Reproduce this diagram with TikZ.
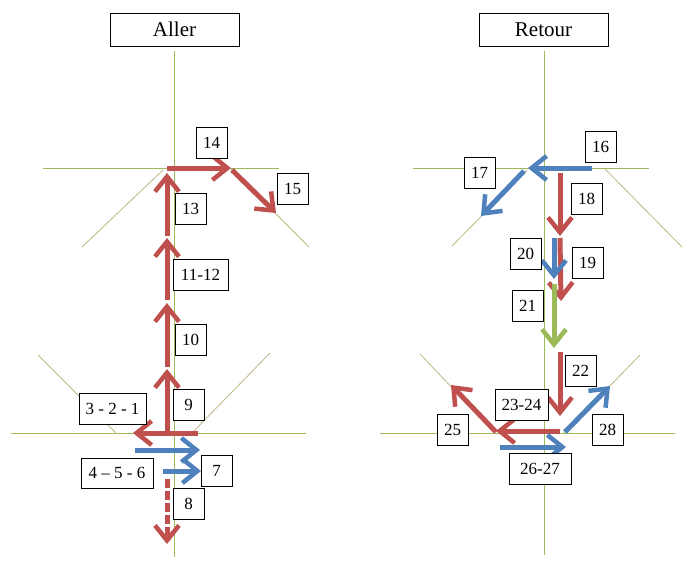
\documentclass[tikz,border=0pt]{standalone}
\usepackage{fontspec}
\setmainfont{Liberation Serif}
\usetikzlibrary{arrows.meta}
\definecolor{ared}{HTML}{C0504D}
\definecolor{ablue}{HTML}{4F81BD}
\definecolor{agreen}{HTML}{9BBB59}
\definecolor{axis}{HTML}{9BBB59}
\definecolor{diag}{HTML}{BDB885}
\tikzset{
  lbl/.style={draw=black, line width=0.8pt, fill=white, inner sep=0pt,
    minimum width=31pt, minimum height=31pt, font=\fontsize{17}{17}\selectfont},
  ttl/.style={draw=black, line width=0.8pt, fill=white, inner sep=0pt,
    minimum width=129pt, minimum height=33pt, font=\fontsize{21}{21}\selectfont},
  axisline/.style={draw=axis, line width=0.8pt},
  diagline/.style={draw=diag, line width=0.8pt},
  mv/.style={line width=5pt, -{Straight Barb[length=15pt, width=24pt, line width=4.5pt]}},
  mvr/.style={mv, draw=ared},
  mvb/.style={mv, draw=ablue},
  mvg/.style={mv, draw=agreen},
}
\begin{document}
\begin{tikzpicture}[x=1pt, y=-1pt]
\useasboundingbox (0,0) rectangle (694,563);
\fill[white] (0,0) rectangle (694,563);
% ---------- left panel axes ----------
\draw[axisline] (174,51) -- (174,557);
\draw[axisline] (43,168) -- (279,168);
\draw[axisline] (11,433) -- (306,433);
\draw[diagline] (163,170) -- (82,247);
\draw[diagline] (230,168) -- (309,247);
\draw[diagline] (38,355) -- (117,434);
\draw[diagline] (270,353) -- (192,433);
% ---------- right panel axes ----------
\draw[axisline] (544,51) -- (544,555);
\draw[axisline] (413,168) -- (649,168);
\draw[axisline] (380,433) -- (675,433);
\draw[diagline] (527,170) -- (452,246);
\draw[diagline] (604,168) -- (682,247);
\draw[diagline] (420,354) -- (495,433);
\draw[diagline] (640,355) -- (564,433);
% ---------- coordinates ----------
\coordinate (p9a) at (167,433);  \coordinate (p9b) at (167,369);
\coordinate (p10a) at (167,367); \coordinate (p10b) at (167,303);
\coordinate (p11a) at (167,300); \coordinate (p11b) at (167,238);
\coordinate (p13a) at (167,236); \coordinate (p13b) at (167,173);
\coordinate (p14a) at (167,168); \coordinate (p14b) at (231,168);
\coordinate (p15a) at (232,170); \coordinate (p15b) at (276,213);
\coordinate (p3a) at (198,433);  \coordinate (p3b) at (133,433);
\coordinate (p4a) at (135,450);  \coordinate (p4b) at (200,450);
\coordinate (p7a) at (163,471);  \coordinate (p7b) at (201,471);
\coordinate (p8a) at (167,479);  \coordinate (p8b) at (167,544);
\coordinate (p16a) at (592,168); \coordinate (p16b) at (528,168);
\coordinate (p17a) at (524,171); \coordinate (p17b) at (481,216);
\coordinate (p18a) at (560,173); \coordinate (p18b) at (560,236);
\coordinate (p19a) at (560,238); \coordinate (p19b) at (561,301);
\coordinate (p20a) at (554,238); \coordinate (p20b) at (554,279);
\coordinate (p21a) at (554,284); \coordinate (p21b) at (554,348);
\coordinate (p22a) at (560,352); \coordinate (p22b) at (560,416);
\coordinate (p23a) at (560,431); \coordinate (p23b) at (496,431);
\coordinate (p25a) at (496,432); \coordinate (p25b) at (451,385);
\coordinate (p26a) at (500,447); \coordinate (p26b) at (566,447);
\coordinate (p28a) at (565,432); \coordinate (p28b) at (610,386);
% ---------- left arrows ----------
\draw[mvr] (p9a) -- (p9b);
\draw[mvr] (p10a) -- (p10b);
\draw[mvr] (p11a) -- (p11b);
\draw[mvr] (p13a) -- (p13b);
\draw[mvr] (p14a) -- (p14b);
\draw[mvr] (p15a) -- (p15b);
\draw[mvr] (p3a) -- (p3b);
\draw[mvb] (p4a) -- (p4b);
\draw[mvb] (p7a) -- (p7b);
\draw[mvr, dash pattern=on 9pt off 3pt] (p8a) -- (p8b);
% ---------- right arrows ----------
\draw[mvb] (p16a) -- (p16b);
\draw[mvb] (p17a) -- (p17b);
\draw[mvr] (p18a) -- (p18b);
\draw[mvr] (p19a) -- (p19b);
\draw[mvb] (p20a) -- (p20b);
\draw[mvg] (p21a) -- (p21b);
\draw[mvr] (p22a) -- (p22b);
\draw[mvr] (p23a) -- (p23b);
\draw[mvr] (p25a) -- (p25b);
\draw[mvb] (p26a) -- (p26b);
\draw[mvb] (p28a) -- (p28b);
% ---------- titles ----------
\node[ttl] (aller) at (174.5,29.5) {Aller};
\node[ttl] (retour) at (543.5,29.5) {Retour};
% ---------- left labels ----------
\node[lbl] (l14) at (211.5,142.5) {14};
\node[lbl] (l15) at (292.5,188.5) {15};
\node[lbl] (l13) at (190.5,208.5) {13};
\node[lbl, minimum width=55pt] (l11) at (200.5,274.5) {11-12};
\node[lbl] (l10) at (190.5,339.5) {10};
\node[lbl] (l9) at (188.5,404.5) {9};
\node[lbl, minimum width=67pt] (l3) at (112.5,408.5) {3 - 2 - 1};
\node[lbl, minimum width=72pt, minimum height=30pt] (l4) at (117,473) {4 – 5 - 6};
\node[lbl] (l7) at (216.5,470.5) {7};
\node[lbl] (l8) at (188.5,503.5) {8};
% ---------- right labels ----------
\node[lbl] (l16) at (600.5,146.5) {16};
\node[lbl] (l17) at (479.5,173) {17};
\node[lbl] (l18) at (586.5,198.5) {18};
\node[lbl] (l20) at (525.5,253.5) {20};
\node[lbl] (l19) at (587.5,262.5) {19};
\node[lbl] (l21) at (527.5,306) {21};
\node[lbl] (l22) at (580.5,370.5) {22};
\node[lbl, minimum width=53pt] (l23) at (521.5,404.5) {23-24};
\node[lbl] (l25) at (452.5,429.5) {25};
\node[lbl] (l28) at (607.5,429.5) {28};
\node[lbl, minimum width=62pt] (l26) at (540,468.5) {26-27};
\end{tikzpicture}
\end{document}
